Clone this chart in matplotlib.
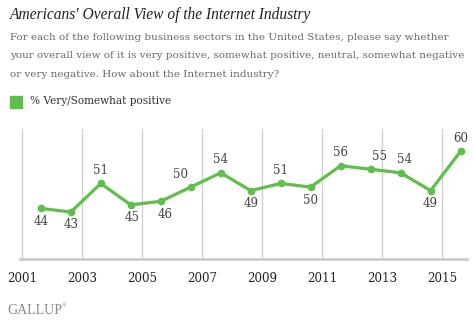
import matplotlib
matplotlib.use("Agg")
import matplotlib.pyplot as plt

# Gallup annual poll (August), % very/somewhat positive about the Internet industry
years = [2001, 2002, 2003, 2004, 2005, 2006, 2007, 2008,
         2009, 2010, 2011, 2012, 2013, 2014, 2015]
positive = [44, 43, 51, 45, 46, 50, 54, 49, 51, 50, 56, 55, 54, 49, 60]
tick_years = [2001, 2003, 2005, 2007, 2009, 2011, 2013, 2015]

# label placement: above/below point, small horizontal nudges in pixels
label_pos = ["below", "below", "above", "below", "below", "above", "above", "below",
             "above", "below", "above", "above", "above", "below", "above"]
label_dx = [0, 0, 0, 1, 4, -10, 0, 0, 0, 0, 0, 9, 4, 0, 0]

GREEN = "#5fbf4b"
SERIF = ["DejaVu Serif"]

survey_month = 8
xs = [y + (survey_month - 0.5) / 12 for y in years]

fig = plt.figure(figsize=(4.74, 3.21), dpi=100)
ax = fig.add_axes([20 / 474, 1 - 259 / 321, 447 / 474, 130 / 321])

ax.plot(xs, positive, color=GREEN, lw=2.3, marker="o", ms=4.5,
        solid_joinstyle="round", zorder=3, clip_on=False)

for x, v, pos, dx in zip(xs, positive, label_pos, label_dx):
    dy = 13 if pos == "above" else -13
    ax.annotate(str(v), (x, v), xytext=(dx, dy), textcoords="offset pixels",
                ha="center", va="center", fontsize=8.6, color="#444444",
                family=SERIF)

ax.set_xlim(2000.93, 2015.84)
ax.set_ylim(29.8, 66.3)
ax.set_xticks(tick_years)
ax.set_xticklabels([str(t) for t in tick_years], family=SERIF, fontsize=8.6,
                   color="#222222")
ax.tick_params(axis="x", length=0, pad=9.5)
ax.set_yticks([])
ax.grid(axis="x", color="#d2d2d2", lw=1)
ax.set_axisbelow(True)
for side in ["top", "right", "left"]:
    ax.spines[side].set_visible(False)
ax.spines["bottom"].set_color("#cccccc")
ax.spines["bottom"].set_linewidth(2)

fig.text(10 / 474, 1 - 15 / 321, "Americans' Overall View of the Internet Industry",
         family=["Liberation Serif"], style="italic", fontsize=11.2,
         color="#222222", va="center")

subtitle = [
    "For each of the following business sectors in the United States, please say whether",
    "your overall view of it is very positive, somewhat positive, neutral, somewhat negative",
    "or very negative. How about the Internet industry?",
]
for i, line in enumerate(subtitle):
    fig.text(10 / 474, 1 - (37 + 18.7 * i) / 321, line, family=SERIF,
             fontsize=7.45, color="#6a6a6a", va="center")

fig.patches.append(plt.Rectangle((10 / 474, 1 - 108 / 321), 12 / 474, 12 / 321,
                                 transform=fig.transFigure, color=GREEN))
fig.text(30 / 474, 1 - 101.5 / 321, "% Very/Somewhat positive", family=SERIF,
         fontsize=7.6, color="#333333", va="center")

fig.text(7 / 474, 1 - 311 / 321, "GALLUP", family=["Liberation Serif"],
         fontsize=10, color="#8a8a8a", va="center")
fig.text(61 / 474, 1 - 306 / 321, "\u00ae", family=SERIF, fontsize=3.5,
         color="#8a8a8a", va="center")

fig.savefig("out.png", dpi=100)
